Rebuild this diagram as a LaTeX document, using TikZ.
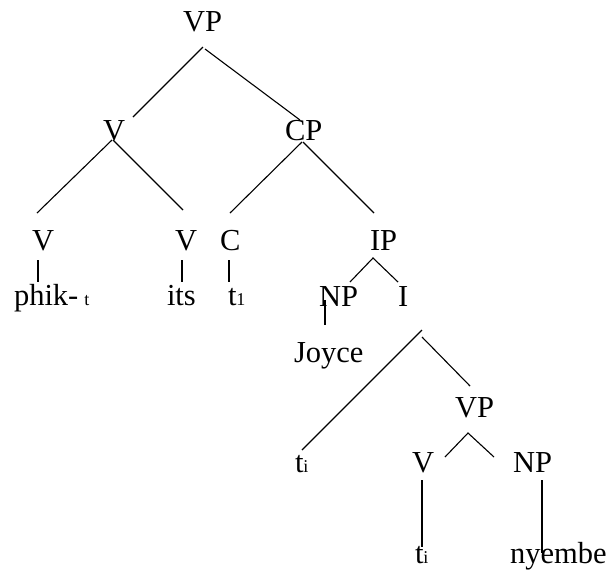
\documentclass[tikz,border=0pt]{standalone}
\usepackage{fontspec}
\setmainfont{Liberation Serif}
\newcommand{\smalltxt}[1]{{\fontsize{18}{18}\selectfont #1}}
\begin{document}
\begin{tikzpicture}[x=1pt,y=-1pt,
  lbl/.style={anchor=base west,inner sep=0pt,outer sep=0pt,font=\fontsize{30.5}{30.5}\selectfont},
  branch/.style={line width=1.1pt,line cap=butt}]
\useasboundingbox (0,0) rectangle (613,571);
% labels
\node[lbl] (vp0) at (183,31) {VP};
\node[lbl] (v1) at (103,140) {V};
\node[lbl] (cp) at (285,140) {CP};
\node[lbl] (v2a) at (32,250) {V};
\node[lbl] (v2b) at (175,250) {V};
\node[lbl] (c) at (220,250) {C};
\node[lbl] (ip) at (370,250) {IP};
\node[lbl] (phik) at (14,305) {phik-\hspace{6pt}\smalltxt{t}};
\node[lbl] (its) at (167,305) {its};
\node[lbl] (tone) at (228,305) {t\smalltxt{1}};
\node[lbl] (np1) at (319,306) {NP};
\node[lbl] (i1) at (398,306) {I};
\node[lbl] (joyce) at (294,362) {Joyce};
\node[lbl] (tia) at (295,472) {t\smalltxt{i}};
\node[lbl] (vp2) at (455,417) {VP};
\node[lbl] (v3) at (412,472) {V};
\node[lbl] (np2) at (513,472) {NP};
\node[lbl] (tib) at (415,563) {t\smalltxt{i}};
\node[lbl] (nyembe) at (510,563) {nyembe};
% branch end points
\coordinate (a1) at (203,47);  \coordinate (b1) at (133,117);
\coordinate (a2) at (205,49);  \coordinate (b2) at (300,120);
\coordinate (a3) at (112,140); \coordinate (b3) at (37,213);
\coordinate (a4) at (113,140); \coordinate (b4) at (183,210);
\coordinate (a5) at (302,142); \coordinate (b5) at (230,213);
\coordinate (a6) at (303,142); \coordinate (b6) at (374,213);
\coordinate (a7) at (38,260);  \coordinate (b7) at (38,282);
\coordinate (a8) at (182,260); \coordinate (b8) at (182,282);
\coordinate (a9) at (229,260); \coordinate (b9) at (229,282);
\coordinate (a10) at (373,258); \coordinate (b10) at (350,282);
\coordinate (b11) at (398,282);
\coordinate (a12) at (325,300); \coordinate (b12) at (325,325);
\coordinate (a13) at (422,330); \coordinate (b13) at (302,450);
\coordinate (a14) at (422,337); \coordinate (b14) at (470,386);
\coordinate (a15) at (468,433); \coordinate (b15) at (445,457);
\coordinate (b16) at (494,457);
\coordinate (a17) at (422,480); \coordinate (b17) at (422,547);
\coordinate (a18) at (542,480); \coordinate (b18) at (542,553);
% branches
\draw[branch] (a1) -- (b1);
\draw[branch] (a2) -- (b2);
\draw[branch] (a3) -- (b3);
\draw[branch] (a4) -- (b4);
\draw[branch] (a5) -- (b5);
\draw[branch] (a6) -- (b6);
\draw[branch] (a7) -- (b7);
\draw[branch] (a8) -- (b8);
\draw[branch] (a9) -- (b9);
\draw[branch] (b10) -- (a10) -- (b11);
\draw[branch] (a12) -- (b12);
\draw[branch] (a13) -- (b13);
\draw[branch] (a14) -- (b14);
\draw[branch] (b15) -- (a15) -- (b16);
\draw[branch] (a17) -- (b17);
\draw[branch] (a18) -- (b18);
\end{tikzpicture}
\end{document}
